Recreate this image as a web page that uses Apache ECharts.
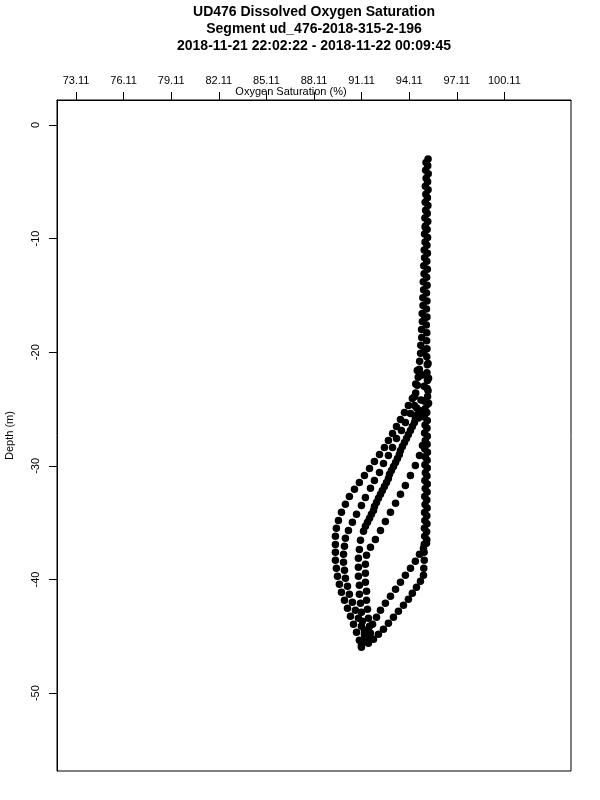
<!DOCTYPE html>
<html><head><meta charset="utf-8">
<script src="https://cdn.jsdelivr.net/npm/echarts@6/dist/echarts.min.js"></script>
<style>html,body{margin:0;padding:0;background:#fff}#c{width:600px;height:800px}</style>
</head><body><div id="c"></div>
<script>
const titleLines = ['UD476 Dissolved Oxygen Saturation', 'Segment ud_476-2018-315-2-196', '2018-11-21 22:02:22 - 2018-11-22 00:09:45'];
const xAxisTitle = 'Oxygen Saturation (%)';
const yAxisTitle = 'Depth (m)';
const xTicks = [73.11, 76.11, 79.11, 82.11, 85.11, 88.11, 91.11, 94.11, 97.11, 100.11];
const yTicks = [0, -10, -20, -30, -40, -50];

// [oxygen saturation %, depth m]
const upperRight = [[95.30,-3.0],[95.28,-3.6],[95.31,-4.3],[95.27,-5.0],[95.30,-5.7],[95.26,-6.4],[95.29,-7.1],[95.25,-7.8],[95.28,-8.5],[95.24,-9.2],[95.27,-9.9],[95.23,-10.6],[95.26,-11.3],[95.22,-12.0],[95.25,-12.7],[95.21,-13.4],[95.24,-14.1],[95.20,-14.8],[95.23,-15.5],[95.20,-16.2],[95.23,-16.9],[95.19,-17.6],[95.22,-18.3],[95.21,-19.0],[95.23,-19.7],[95.22,-20.4],[95.25,-21.1],[95.23,-21.8],[95.26,-22.5],[95.24,-23.2],[95.27,-23.9]];
const upperLeft = [[95.17,-3.3],[95.15,-4.0],[95.18,-4.7],[95.13,-5.4],[95.16,-6.1],[95.12,-6.8],[95.15,-7.5],[95.10,-8.2],[95.13,-8.9],[95.08,-9.6],[95.11,-10.3],[95.06,-11.0],[95.08,-11.7],[95.03,-12.4],[95.05,-13.1],[95.00,-13.8],[95.02,-14.5],[94.97,-15.2],[94.98,-15.9],[94.93,-16.6],[94.94,-17.3],[94.89,-18.0],[94.90,-18.7],[94.84,-19.4],[94.83,-20.1],[94.77,-20.8],[94.75,-21.5],[94.68,-22.2],[94.62,-22.9],[94.52,-23.6]];
const upperCluster = [[95.30,-21.0],[94.62,-21.6],[95.33,-22.3],[94.52,-22.8],[95.30,-23.4],[94.45,-23.9],[95.33,-24.5],[94.58,-24.9],[94.95,-25.5],[94.97,-22.0],[95.05,-23.0],[94.85,-24.2],[94.70,-25.8],[95.10,-17.0],[95.05,-19.9],[95.12,-9.0]];
const rightColumn = [[95.24,-24.6],[95.22,-25.3],[95.25,-26.0],[95.23,-26.7],[95.25,-27.4],[95.24,-28.1],[95.26,-28.8],[95.24,-29.5],[95.25,-30.2],[95.23,-30.9],[95.25,-31.6],[95.24,-32.3],[95.22,-33.0],[95.24,-33.7],[95.22,-34.4],[95.23,-35.1],[95.21,-35.8],[95.22,-36.5]];
const returnE = [[95.20,-36.82],[95.01,-37.26],[94.76,-37.78],[94.50,-38.40],[94.19,-39.01],[93.87,-39.63],[93.56,-40.24],[93.25,-40.86],[92.93,-41.48],[92.61,-42.09],[92.30,-42.70],[92.05,-43.32],[91.80,-43.94],[91.54,-44.55],[91.29,-45.17],[91.10,-45.78]];
const returnF = [[95.06,-24.3],[95.10,-25.0],[95.07,-25.7],[95.11,-26.4],[95.08,-27.1],[95.12,-27.8],[95.09,-28.5],[95.12,-29.2],[95.10,-29.9],[95.13,-30.6],[95.10,-31.3],[95.12,-32.0],[95.09,-32.7],[95.11,-33.4],[95.08,-34.1],[95.10,-34.8],[95.07,-35.5],[95.09,-36.2],[95.06,-36.9],[95.05,-37.6],[95.06,-38.3],[95.03,-39.0],[95.01,-39.63],[94.82,-40.16],[94.57,-40.68],[94.31,-41.21],[94.06,-41.74],[93.75,-42.27],[93.43,-42.79],[93.12,-43.32],[92.80,-43.85],[92.49,-44.37],[92.17,-44.81],[91.86,-45.25],[91.54,-45.61]];
const descentA = [[94.31,-24.08],[94.06,-24.69],[93.81,-25.31],[93.56,-25.92],[93.31,-26.54],[93.06,-27.15],[92.80,-27.77],[92.55,-28.38],[92.24,-29.00],[91.92,-29.61],[91.61,-30.23],[91.29,-30.84],[90.97,-31.46],[90.66,-32.07],[90.34,-32.69],[90.09,-33.39],[89.84,-34.09],[89.65,-34.80],[89.52,-35.50],[89.46,-36.20],[89.46,-36.91],[89.46,-37.61],[89.46,-38.31],[89.52,-39.01],[89.59,-39.72],[89.71,-40.42],[89.84,-41.12],[90.03,-41.83],[90.22,-42.53],[90.41,-43.23],[90.60,-43.94],[90.79,-44.64],[90.97,-45.34],[91.10,-45.96]];
const descentB = [[94.44,-24.69],[94.19,-25.39],[93.87,-26.19],[93.62,-26.89],[93.31,-27.59],[93.06,-28.38],[92.80,-29.09],[92.49,-29.79],[92.24,-30.58],[91.92,-31.28],[91.67,-31.98],[91.35,-32.78],[91.10,-33.48],[90.79,-34.27],[90.53,-34.97],[90.28,-35.68],[90.09,-36.38],[90.03,-37.08],[89.97,-37.78],[89.97,-38.49],[90.03,-39.19],[90.09,-39.89],[90.22,-40.60],[90.34,-41.30],[90.53,-42.00],[90.72,-42.70],[90.91,-43.41],[91.10,-44.11],[91.29,-44.81],[91.42,-45.43]];
const diagC = [[94.76,-25.13],[94.50,-25.83],[94.31,-26.54],[94.06,-27.24],[93.81,-27.94],[93.56,-28.65],[93.37,-29.35],[93.12,-30.05],[92.87,-30.75],[92.68,-31.46],[92.42,-32.16],[92.17,-32.86],[91.92,-33.57],[91.73,-34.27],[91.48,-34.97],[91.23,-35.76],[91.04,-36.55],[90.97,-37.35],[90.91,-38.14],[90.91,-38.93],[90.91,-39.72],[90.97,-40.51],[90.97,-41.30],[91.04,-42.09],[91.10,-42.88],[91.16,-43.67],[91.29,-44.46],[91.42,-45.17]];
const diagC2 = [[94.63,-25.48],[94.44,-26.19],[94.19,-26.89],[93.94,-27.59],[93.68,-28.29],[93.49,-29.00],[93.25,-29.70],[92.99,-30.40],[92.80,-31.11],[92.55,-31.81],[92.30,-32.51],[92.05,-33.22],[91.86,-33.92],[91.61,-34.62],[91.35,-35.32]];
const diagD = [[94.95,-28.21],[94.76,-29.09],[94.50,-29.96],[94.19,-30.84],[93.87,-31.72],[93.56,-32.51],[93.25,-33.30],[92.93,-34.09],[92.61,-34.89],[92.30,-35.68],[91.98,-36.47],[91.67,-37.17],[91.42,-37.87],[91.35,-38.66],[91.35,-39.45],[91.35,-40.24],[91.42,-41.03],[91.42,-41.83],[91.48,-42.62],[91.54,-43.41],[91.61,-44.11],[91.67,-44.73]];

const tracks = [upperRight, upperLeft, upperCluster, rightColumn, returnE, returnF, descentA, descentB, diagC, diagC2, diagD];
const FONT = 'Liberation Sans, Arial, Helvetica, sans-serif';

const chart = echarts.init(document.getElementById('c'), null, {renderer: 'canvas'});
chart.setOption({
  animation: false,
  backgroundColor: '#fff',
  grid: {left: 57, top: 100, width: 514, height: 671, show: true, borderColor: '#000', borderWidth: 1, backgroundColor: 'transparent', containLabel: false, outerBoundsMode: 'none'},
  xAxis: {
    type: 'value', position: 'top', min: 71.91, max: 104.31,
    axisLine: {show: true, onZero: false, lineStyle: {color: '#000', width: 1}},
    axisTick: {show: true, inside: false, length: 8, customValues: xTicks, lineStyle: {color: '#000', width: 1}},
    axisLabel: {show: true, customValues: xTicks, formatter: v => v.toFixed(2), margin: 14, fontSize: 11, color: '#000', fontFamily: FONT},
    splitLine: {show: false}
  },
  yAxis: {
    type: 'value', min: -56.85, max: 2.19,
    name: yAxisTitle, nameLocation: 'middle', nameGap: 42, nameRotate: 90,
    nameTextStyle: {fontSize: 11, color: '#000', fontFamily: FONT},
    axisLine: {show: true, onZero: false, lineStyle: {color: '#000', width: 1}},
    axisTick: {show: true, inside: false, length: 8, customValues: yTicks, lineStyle: {color: '#000', width: 1}},
    axisLabel: {show: true, customValues: yTicks, rotate: 90, margin: 16, fontSize: 11, color: '#000', fontFamily: FONT},
    splitLine: {show: false}
  },
  graphic: [
    {type: 'text', x: 314, y: 12, style: {text: titleLines[0], font: 'bold 14px ' + FONT, fill: '#000', textAlign: 'center', textVerticalAlign: 'middle'}},
    {type: 'text', x: 314, y: 29, style: {text: titleLines[1], font: 'bold 14px ' + FONT, fill: '#000', textAlign: 'center', textVerticalAlign: 'middle'}},
    {type: 'text', x: 314, y: 46, style: {text: titleLines[2], font: 'bold 14px ' + FONT, fill: '#000', textAlign: 'center', textVerticalAlign: 'middle'}},
    {type: 'text', x: 291, y: 92, style: {text: xAxisTitle, font: '11px ' + FONT, fill: '#000', textAlign: 'center', textVerticalAlign: 'middle'}}
  ],
  series: tracks.map(t => ({
    type: 'scatter', data: t, symbol: 'circle', symbolSize: 7.5,
    itemStyle: {color: '#000', opacity: 1}, silent: true
  }))
});
</script></body></html>
